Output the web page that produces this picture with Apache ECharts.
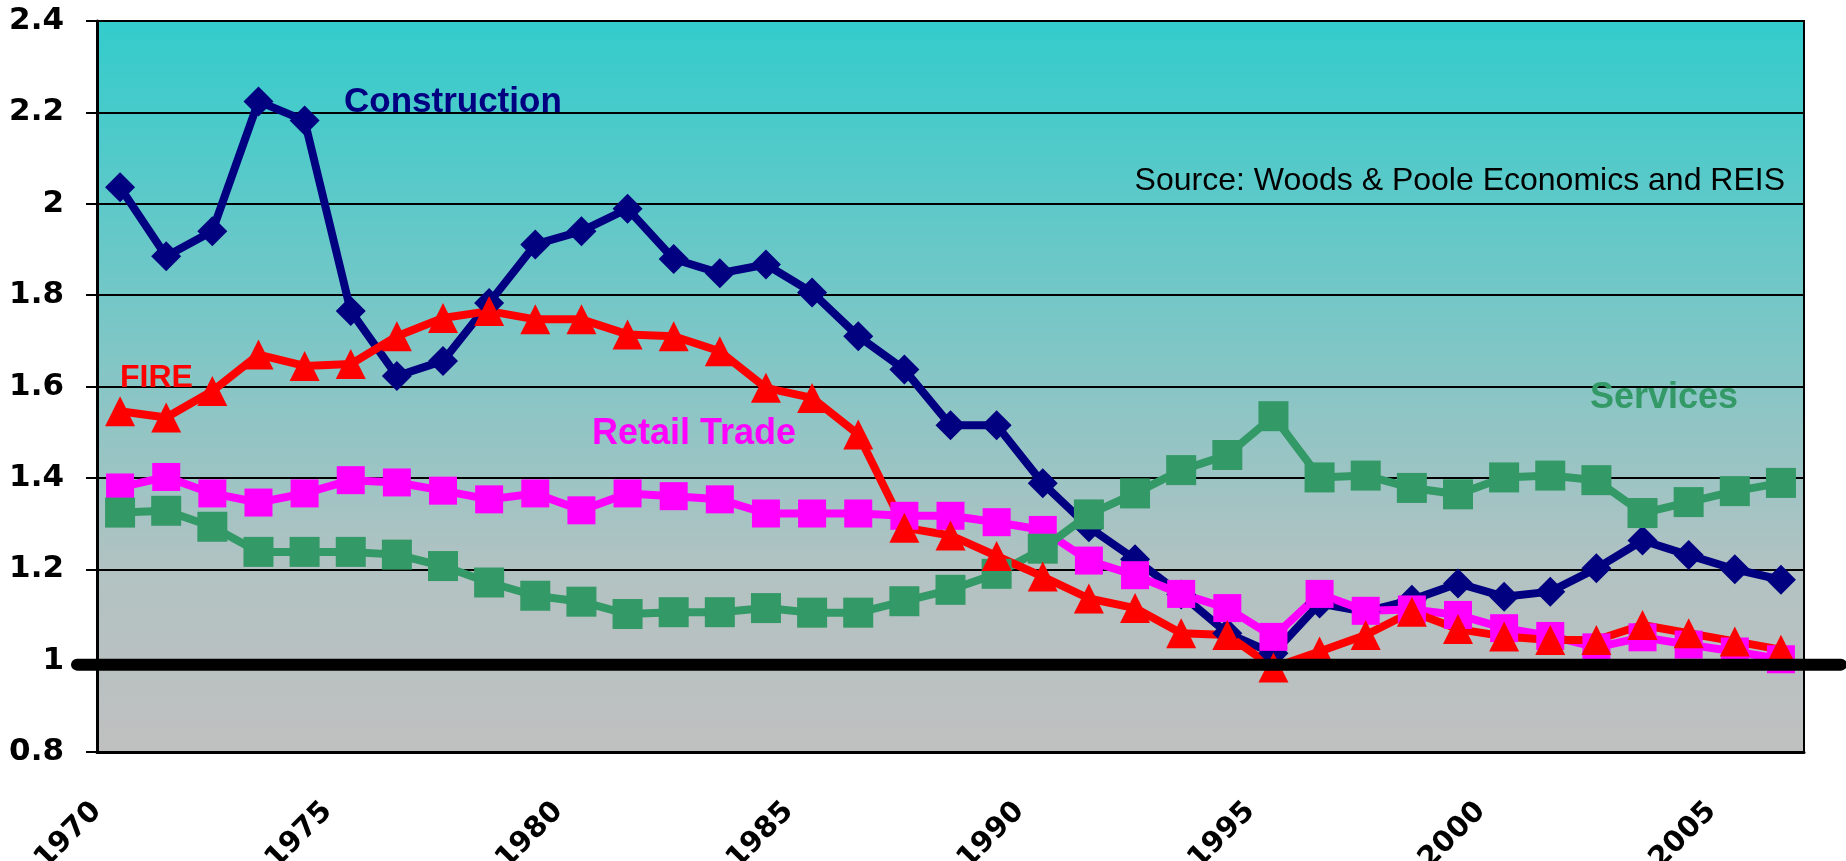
<!DOCTYPE html>
<html>
<head>
<meta charset="utf-8">
<script src="https://cdn.jsdelivr.net/npm/echarts@6/dist/echarts.min.js"></script>
<style>
  html, body { margin: 0; padding: 0; background: #fff; }
  #chart { width: 1846px; height: 861px; }
</style>
</head>
<body>
<div id="chart"></div>
<script>
// location quotients, 1970-2006
var years = [1970, 1971, 1972, 1973, 1974, 1975, 1976, 1977, 1978, 1979,
  1980, 1981, 1982, 1983, 1984, 1985, 1986, 1987, 1988, 1989,
  1990, 1991, 1992, 1993, 1994, 1995, 1996, 1997, 1998, 1999,
  2000, 2001, 2002, 2003, 2004, 2005, 2006];

var construction = [2.036, 1.885, 1.94, 2.224, 2.182, 1.765, 1.623, 1.656, 1.783, 1.911,
  1.94, 1.989, 1.879, 1.848, 1.867, 1.806, 1.71, 1.637, 1.515, 1.515,
  1.388, 1.292, 1.222, 1.145, 1.06, 1.016, 1.125, 1.107, 1.133, 1.169,
  1.14, 1.151, 1.202, 1.263, 1.231, 1.2, 1.177];

var fire = [1.546, 1.532, 1.59, 1.67, 1.645, 1.649, 1.71, 1.75, 1.765, 1.747,
  1.747, 1.714, 1.71, 1.677, 1.597, 1.575, 1.495, 1.291, 1.274, 1.229,
  1.184, 1.136, 1.115, 1.06, 1.056, 0.985, 1.02, 1.056, 1.107, 1.069,
  1.053, 1.045, 1.045, 1.078, 1.06, 1.042, 1.024];

var retail = [1.379, 1.402, 1.366, 1.346, 1.366, 1.395, 1.39, 1.372, 1.353, 1.366,
  1.329, 1.366, 1.36, 1.353, 1.322, 1.322, 1.322, 1.317, 1.317, 1.303,
  1.286, 1.219, 1.187, 1.146, 1.115, 1.052, 1.146, 1.109, 1.112, 1.1,
  1.071, 1.054, 1.029, 1.051, 1.035, 1.02, 1.003];

var services = [1.324, 1.328, 1.293, 1.238, 1.238, 1.238, 1.232, 1.207, 1.171, 1.142,
  1.129, 1.102, 1.106, 1.106, 1.115, 1.105, 1.105, 1.13, 1.155, 1.19,
  1.245, 1.32, 1.366, 1.417, 1.45, 1.535, 1.401, 1.405, 1.378, 1.364,
  1.401, 1.405, 1.395, 1.323, 1.347, 1.371, 1.389];

var yearLabels = [1970, 1975, 1980, 1985, 1990, 1995, 2000, 2005];
var yMin = 0.8, yMax = 2.4, yStep = 0.2;
var refLevel = 1;

var font = "'Liberation Sans', Arial, sans-serif";
var axisFont = "'DejaVu Sans', 'Liberation Sans', sans-serif";
var grid = { left: 97, top: 21, width: 1707, height: 731 };

var myChart = echarts.init(document.getElementById("chart"));

function lineSeries(name, data, color, symbol, size) {
  return {
    name: name,
    type: "line",
    data: data,
    xAxisIndex: 0,
    symbol: symbol,
    symbolSize: size,
    showAllSymbol: true,
    lineStyle: { color: color, width: 8 },
    itemStyle: { color: color },
    emphasis: { disabled: true }
  };
}

function label(text, x, y, color, size, weight, align) {
  return {
    type: "text",
    x: x,
    y: y,
    z: 50,
    style: {
      text: text,
      fill: color,
      fontSize: size,
      fontWeight: weight,
      fontFamily: font,
      align: align || "left",
      verticalAlign: "middle"
    }
  };
}

var option = {
  animation: false,
  grid: {
    left: grid.left,
    top: grid.top,
    width: grid.width,
    height: grid.height,
    outerBoundsMode: "none",
    containLabel: false,
    show: true,
    borderColor: "#000",
    borderWidth: 2,
    backgroundColor: {
      type: "linear", x: 0, y: 0, x2: 0, y2: 1,
      colorStops: [
        { offset: 0, color: "#33CCCC" },
        { offset: 0.45, color: "#80C6C6" },
        { offset: 0.75, color: "#B2C2C2" },
        { offset: 1, color: "#C0C0C0" }
      ]
    }
  },
  xAxis: [
    {
      type: "category",
      data: years,
      boundaryGap: true,
      position: "bottom",
      axisLine: { lineStyle: { color: "#000", width: 3 } },
      axisTick: { interval: 0, length: 11, lineStyle: { color: "#000", width: 2 } },
      axisLabel: { show: false },
      splitLine: { show: false }
    },
    {
      // only carries the year labels, which sit on the band edges
      type: "value",
      min: 1970,
      max: 2007,
      interval: 5,
      position: "bottom",
      axisLine: { show: false },
      axisTick: { show: false },
      splitLine: { show: false },
      axisLabel: {
        rotate: 45,
        margin: 55,
        color: "#000",
        fontSize: 29,
        fontWeight: "bold",
        fontFamily: axisFont,
        formatter: function (v) {
          return yearLabels.indexOf(v) >= 0 ? String(v) : "";
        }
      }
    }
  ],
  yAxis: {
    type: "value",
    min: yMin,
    max: yMax,
    interval: yStep,
    axisLine: { show: true, lineStyle: { color: "#000", width: 3 } },
    axisTick: { show: true, length: 11, lineStyle: { color: "#000", width: 2 } },
    splitLine: { show: true, lineStyle: { color: "#000", width: 2 } },
    axisLabel: {
      margin: 33,
      color: "#000",
      fontSize: 31,
      fontWeight: "bold",
      fontFamily: axisFont
    }
  },
  series: [
    lineSeries("Construction", construction, "#000080", "diamond", 30),
    lineSeries("Retail Trade", retail, "#FF00FF", "rect", 28),
    lineSeries("Services", services, "#339966", "rect", 30),
    lineSeries("FIRE", fire, "#FF0000", "triangle", 30)
  ],
  graphic: [
    label("Construction", 344, 102, "#000080", 35, "bold"),
    label("FIRE", 120, 378, "#FF0000", 32, "bold"),
    label("Retail Trade", 592, 434, "#FF00FF", 36, "bold"),
    label("Services", 1590, 398, "#339966", 36, "bold"),
    label("Source: Woods & Poole Economics and REIS", 1785, 181, "#000", 32, "normal", "right")
  ]
};

myChart.setOption(option);

// heavy reference line at LQ = 1, running past both plot edges
var yRef = myChart.convertToPixel({ yAxisIndex: 0 }, refLevel) + 4;
myChart.setOption({
  graphic: [{
    id: "refLine",
    type: "line",
    z: 100,
    shape: { x1: grid.left - 20, y1: yRef, x2: grid.left + grid.width + 37, y2: yRef },
    style: { stroke: "#000", lineWidth: 12, lineCap: "round" }
  }]
});
</script>
</body>
</html>
